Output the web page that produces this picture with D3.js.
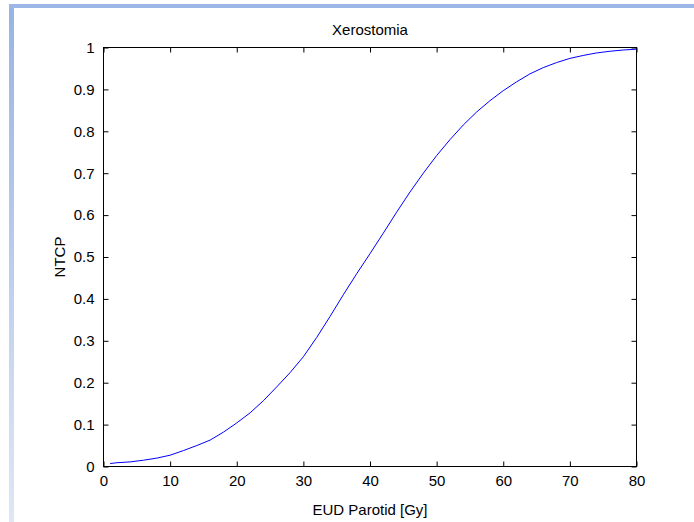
<!DOCTYPE html>
<html>
<head>
<meta charset="utf-8">
<script src="https://cdn.jsdelivr.net/npm/d3@7"></script>
<style>
  body { margin: 0; background: #fff; }
  svg { display: block; font-family: "Liberation Sans", Arial, sans-serif; }
</style>
</head>
<body>
<div id="chart"></div>
<script>
// EUD (Gy) vs NTCP
var eud  = [1, 2, 4, 6, 8, 10, 12, 14, 16, 18, 20, 22, 24, 26, 28, 30, 32, 34, 36, 38,
            40, 42, 44, 46, 48, 50, 52, 54, 56, 58, 60, 62, 64, 66, 68, 70, 72, 74, 76, 78, 80];
var ntcp = [0.007, 0.009, 0.011, 0.015, 0.020, 0.027, 0.038, 0.050, 0.063, 0.082, 0.104,
            0.128, 0.157, 0.190, 0.224, 0.262, 0.308, 0.358, 0.410, 0.460, 0.508, 0.557,
            0.607, 0.655, 0.700, 0.742, 0.780, 0.815, 0.846, 0.873, 0.897, 0.918, 0.937,
            0.952, 0.964, 0.974, 0.981, 0.987, 0.991, 0.994, 0.996];
var xTicks = [0, 10, 20, 30, 40, 50, 60, 70, 80];
var yTicks = [0, 0.1, 0.2, 0.3, 0.4, 0.5, 0.6, 0.7, 0.8, 0.9, 1];

var width = 694, height = 522;
var box = {left: 103.5, right: 636.5, top: 47.5, bottom: 466.5};

var svg = d3.select("#chart").append("svg")
    .attr("width", width)
    .attr("height", height);

// slide frame (top and left bars)
var grad = svg.append("defs").append("linearGradient")
    .attr("id", "barfade").attr("x1", 0).attr("y1", 0).attr("x2", 0).attr("y2", 1);
grad.append("stop").attr("offset", "0%").attr("stop-color", "#98b3e4");
grad.append("stop").attr("offset", "100%").attr("stop-color", "#dfe7f5");

svg.append("rect").attr("x", 9).attr("y", 4).attr("width", 5).attr("height", height - 4)
    .attr("fill", "url(#barfade)");
svg.append("rect").attr("x", 9).attr("y", 4).attr("width", width - 9).attr("height", 4)
    .attr("fill", "#9cb6e6");

var x = d3.scaleLinear().domain([0, 80]).range([box.left, box.right]);
var y = d3.scaleLinear().domain([0, 1]).range([box.bottom, box.top]);

// axes with inward ticks on all four sides
svg.append("g")
    .attr("transform", `translate(0,${box.bottom})`)
    .call(d3.axisBottom(x).tickValues(xTicks).tickSize(-5).tickPadding(9).tickFormat(d3.format("d")))
    .call(g => g.select(".domain").remove());
svg.append("g")
    .attr("transform", `translate(0,${box.top})`)
    .call(d3.axisTop(x).tickValues(xTicks).tickSize(-5).tickFormat(""))
    .call(g => g.select(".domain").remove());
svg.append("g")
    .attr("transform", `translate(${box.left},0)`)
    .call(d3.axisLeft(y).tickValues(yTicks).tickSize(-5).tickPadding(9).tickFormat(d => d3.format("")(+d.toFixed(1))))
    .call(g => g.select(".domain").remove());
svg.append("g")
    .attr("transform", `translate(${box.right},0)`)
    .call(d3.axisRight(y).tickValues(yTicks).tickSize(-5).tickFormat(""))
    .call(g => g.select(".domain").remove());

svg.selectAll(".tick text")
    .attr("fill", "#000")
    .style("font-size", "15px")
    .style("font-family", "Liberation Sans, Arial, sans-serif");
svg.selectAll(".tick line").attr("stroke", "#000");

svg.append("rect")
    .attr("x", box.left).attr("y", box.top)
    .attr("width", box.right - box.left).attr("height", box.bottom - box.top)
    .attr("fill", "none").attr("stroke", "#000").attr("stroke-width", 1);

// curve
var line = d3.line()
    .x((d, i) => x(eud[i]))
    .y(d => y(d));

svg.append("path")
    .datum(ntcp)
    .attr("d", line)
    .attr("fill", "none")
    .attr("stroke", "#0000ff")
    .attr("stroke-width", 1);

// labels
svg.append("text")
    .attr("x", (box.left + box.right) / 2).attr("y", 35)
    .attr("text-anchor", "middle")
    .style("font-size", "15px")
    .text("Xerostomia");

svg.append("text")
    .attr("x", (box.left + box.right) / 2).attr("y", 515)
    .attr("text-anchor", "middle")
    .style("font-size", "15px")
    .text("EUD Parotid [Gy]");

svg.append("text")
    .attr("transform", `translate(65,${(box.top + box.bottom) / 2}) rotate(-90)`)
    .attr("text-anchor", "middle")
    .style("font-size", "15px")
    .text("NTCP");
</script>
</body>
</html>
